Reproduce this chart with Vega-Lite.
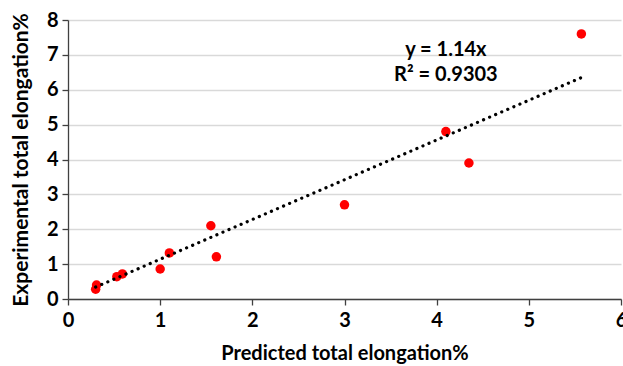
{
  "$schema": "https://vega.github.io/schema/vega-lite/v6.json",
  "width": 553,
  "height": 279,
  "autosize": {"type": "none"},
  "padding": {"left": 68, "top": 20, "right": 2, "bottom": 67},
  "background": "white",
  "config": {
    "view": {"stroke": null},
    "font": "Lato",
    "axis": {
      "labelFont": "Lato",
      "titleFont": "Lato",
      "labelFontSize": 20,
      "labelFontWeight": "bold",
      "titleFontSize": 20,
      "titleFontWeight": "bold",
      "labelColor": "#000000",
      "titleColor": "#000000",
      "domainColor": "#404040",
      "tickColor": "#404040",
      "domainWidth": 1.3,
      "tickWidth": 1.3,
      "tickSize": 6,
      "gridColor": "#d9d9d9",
      "gridWidth": 1.3
    }
  },
  "encoding": {
    "x": {"field": "pred", "type": "quantitative",
      "scale": {"domain": [0, 6], "nice": false},
      "axis": {"title": "Predicted total elongation%", "values": [0,1,2,3,4,5,6], "format": "d", "labelOverlap": false, "grid": false, "labelPadding": 5, "titlePadding": 13, "labelFlush": false}},
    "y": {"field": "exp", "type": "quantitative",
      "scale": {"domain": [0, 8], "nice": false},
      "axis": {"title": "Experimental total elongation%", "titleFontSize": 21, "values": [0,1,2,3,4,5,6,7,8], "format": "d", "labelOverlap": false, "grid": true, "labelPadding": 4, "titlePadding": 15, "labelFlush": false}}
  },
  "layer": [
    {
      "data": {"values": [
        {"pred": 0.3, "exp": 0.28},
        {"pred": 0.31, "exp": 0.4},
        {"pred": 0.53, "exp": 0.64},
        {"pred": 0.59, "exp": 0.72},
        {"pred": 1.0, "exp": 0.86},
        {"pred": 1.1, "exp": 1.32},
        {"pred": 1.55, "exp": 2.1},
        {"pred": 1.61, "exp": 1.21},
        {"pred": 3.0, "exp": 2.7},
        {"pred": 4.1, "exp": 4.8},
        {"pred": 4.35, "exp": 3.9},
        {"pred": 5.57, "exp": 7.6}
      ]},
      "mark": {"type": "point", "filled": true, "color": "#ff0000", "opacity": 1, "size": 90}
    },
    {
      "data": {"values": [
        {"pred": 0.3, "exp": 0.342},
        {"pred": 5.58, "exp": 6.36}
      ]},
      "mark": {"type": "line", "color": "#000000", "strokeWidth": 3.2, "strokeDash": [0.1, 6.5], "strokeCap": "round"}
    },
    {
      "data": {"values": [
        {"pred": 4.1, "exp": 7.13, "label": "y = 1.14x"},
        {"pred": 4.1, "exp": 6.42, "label": "R² = 0.9303"}
      ]},
      "mark": {"type": "text", "font": "Lato", "fontSize": 20, "fontWeight": "bold", "align": "center", "baseline": "middle", "color": "#000000"},
      "encoding": {
        "text": {"field": "label"}
      }
    }
  ]
}
